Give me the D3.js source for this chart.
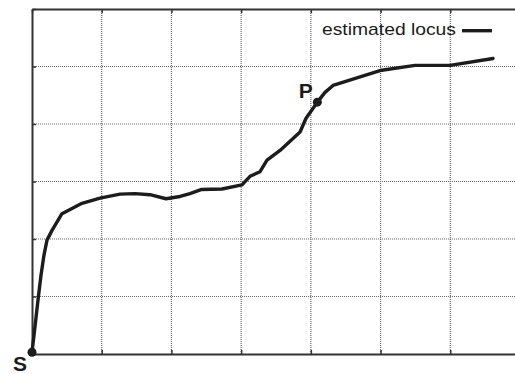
<!DOCTYPE html>
<html>
<head>
<meta charset="utf-8">
<script src="https://cdn.jsdelivr.net/npm/d3@7"></script>
<style>
  html, body { margin: 0; padding: 0; background: #fff; }
  svg { display: block; }
</style>
</head>
<body>
<svg id="chart" width="515" height="374"></svg>
<script>
// Estimated locus, traced from the start S through P
const locusX = [0, 0.029, 0.057, 0.086, 0.129, 0.172, 0.215, 0.287, 0.43, 0.717, 0.975,
  1.262, 1.477, 1.693, 1.922, 2.123, 2.266, 2.424, 2.725, 3.012, 3.127, 3.271, 3.371,
  3.558, 3.845, 3.931, 4.093, 4.203, 4.318, 4.992, 5.494, 5.996, 6.613];
const locusY = [0.03, 0.33, 0.625, 0.94, 1.37, 1.72, 1.98, 2.15, 2.44, 2.62, 2.71,
  2.78, 2.79, 2.77, 2.70, 2.74, 2.79, 2.86, 2.87, 2.94, 3.09, 3.17, 3.37,
  3.54, 3.86, 4.10, 4.38, 4.55, 4.67, 4.93, 5.02, 5.02, 5.14];

// Marked points on the locus
const markNames = ["S", "P"];
const markX = [0, 4.093];
const markY = [0.03, 4.38];

// Grid ticks (unlabelled)
const xTicks = [0, 1, 2, 3, 4, 5, 6, 7];
const yTicks = [0, 1, 2, 3, 4, 5, 6];

const legendLabel = "estimated locus";

const svg = d3.select("#chart");
const plotLeft = 32, plotTop = 9, plotBottom = 354, plotRight = 520;

const x = d3.scaleLinear().domain([0, 7]).range([plotLeft, plotRight]);
const y = d3.scaleLinear().domain([0, 6]).range([plotBottom, plotTop]);

// dotted grid
const grid = svg.append("g");
grid.selectAll("line.v").data(xTicks.slice(1)).join("line")
  .attr("x1", d => x(d)).attr("x2", d => x(d))
  .attr("y1", plotTop).attr("y2", plotBottom)
  .attr("stroke", "#666").attr("stroke-width", 1.2)
  .attr("stroke-dasharray", "1,1");
grid.selectAll("line.h").data(yTicks.slice(1, -1)).join("line")
  .attr("x1", plotLeft).attr("x2", plotRight)
  .attr("y1", d => y(d)).attr("y2", d => y(d))
  .attr("stroke", "#666").attr("stroke-width", 1.2)
  .attr("stroke-dasharray", "1,1");

// frame axes with short inward ticks
function styleAxis(g) {
  g.selectAll("path.domain").attr("stroke", "#333").attr("stroke-width", 2);
  g.selectAll(".tick line").attr("stroke", "#333").attr("stroke-width", 1.5);
  g.selectAll(".tick text").remove();
}
svg.append("g").attr("transform", `translate(0,${plotTop})`)
  .call(d3.axisTop(x).tickValues(xTicks).tickSizeInner(-4).tickSizeOuter(0).tickFormat(""))
  .call(styleAxis);
svg.append("g").attr("transform", `translate(0,${plotBottom})`)
  .call(d3.axisBottom(x).tickValues(xTicks).tickSizeInner(-4).tickSizeOuter(0).tickFormat(""))
  .call(styleAxis);
svg.append("g").attr("transform", `translate(${plotLeft},0)`)
  .call(d3.axisLeft(y).tickValues(yTicks).tickSizeInner(-4).tickSizeOuter(0).tickFormat(""))
  .call(styleAxis);

// locus line
const pts = locusX.map((v, i) => [v, locusY[i]]);
svg.append("path")
  .datum(pts)
  .attr("fill", "none")
  .attr("stroke", "#1c1c1c")
  .attr("stroke-width", 3.4)
  .attr("stroke-linejoin", "round")
  .attr("stroke-linecap", "round")
  .attr("d", d3.line().x(d => x(d[0])).y(d => y(d[1])));

// marked points
svg.selectAll("circle.mark").data(markNames).join("circle")
  .attr("cx", (d, i) => x(markX[i]))
  .attr("cy", (d, i) => y(markY[i]))
  .attr("r", 4.5)
  .attr("fill", "#1c1c1c");

const labelPos = { S: [-19, 19], P: [-18.5, -4.5] };
svg.selectAll("text.mark").data(markNames).join("text")
  .attr("x", (d, i) => x(markX[i]) + labelPos[d][0])
  .attr("y", (d, i) => y(markY[i]) + labelPos[d][1])
  .attr("font-family", "Liberation Sans, Arial, sans-serif")
  .attr("font-weight", "bold")
  .attr("font-size", 21)
  .attr("fill", "#1c1c1c")
  .text(d => d);

// legend
const leg = svg.append("g");
leg.append("text")
  .attr("x", 322)
  .attr("y", 35)
  .attr("font-family", "Liberation Sans, Arial, sans-serif")
  .attr("font-size", 17)
  .attr("textLength", 134)
  .attr("lengthAdjust", "spacingAndGlyphs")
  .attr("fill", "#1c1c1c")
  .text(legendLabel);
leg.append("line")
  .attr("x1", 462).attr("x2", 492)
  .attr("y1", 30.7).attr("y2", 30.7)
  .attr("stroke", "#1c1c1c").attr("stroke-width", 3.4);
</script>
</body>
</html>
